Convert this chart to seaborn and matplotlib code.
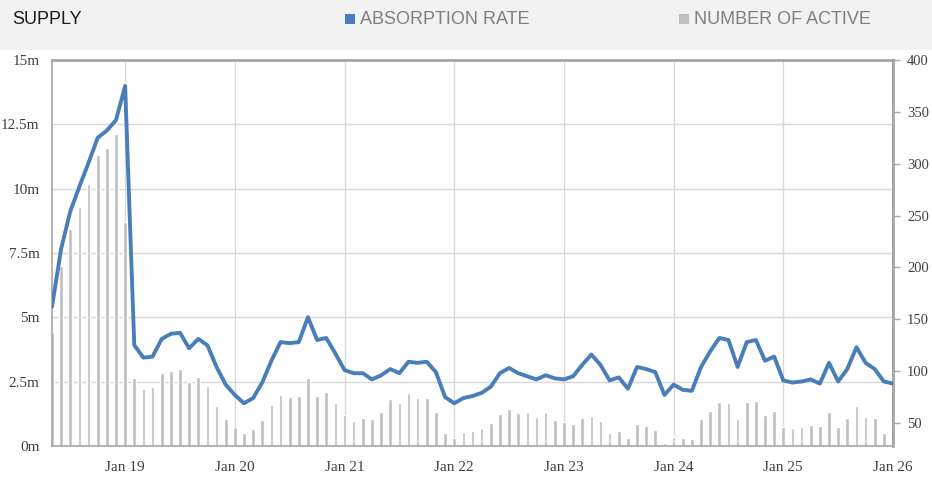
import numpy as np
import pandas as pd
import matplotlib
matplotlib.use('Agg')
import matplotlib.pyplot as plt
import seaborn as sns
from matplotlib.patches import Rectangle

# monthly series, May 2018 - Jan 2026
start_month = '2018-05-01'
active_m = [4.44, 7.0, 8.42, 9.3, 10.2, 11.3, 11.57, 12.13, 8.69, 2.63,
            2.22, 2.31, 2.83, 2.93, 2.98, 2.48, 2.67, 2.35, 1.57, 1.05,
            0.73, 0.49, 0.65, 1.02, 1.61, 1.97, 1.92, 1.94, 2.63, 1.96,
            2.11, 1.68, 1.2, 0.97, 1.1, 1.05, 1.33, 1.83, 1.66, 2.05,
            1.85, 1.85, 1.32, 0.49, 0.3, 0.53, 0.58, 0.69, 0.88, 1.24,
            1.42, 1.27, 1.31, 1.11, 1.33, 1.01, 0.92, 0.84, 1.1, 1.17,
            0.97, 0.52, 0.6, 0.3, 0.84, 0.78, 0.62, 0.1, 0.36, 0.3,
            0.26, 1.05, 1.36, 1.72, 1.68, 1.05, 1.72, 1.76, 1.2, 1.36,
            0.73, 0.69, 0.73, 0.82, 0.78, 1.32, 0.73, 1.1, 1.55, 1.14,
            1.1, 0.52, 0.47]
absorption = [162, 218, 254, 278, 301, 325, 332, 342, 375, 125,
              113, 114, 131, 136, 137, 122, 131, 125, 104, 87,
              77, 69, 74, 89, 110, 128, 127, 128, 152, 130,
              132, 117, 101, 98, 98, 92, 96, 102, 98, 109,
              108, 109, 99, 75, 69, 74, 76, 79, 85, 98,
              103, 98, 95, 92, 96, 93, 92, 95, 106, 116,
              106, 91, 94, 83, 104, 102, 99, 77, 87, 82,
              81, 104, 119, 132, 130, 104, 128, 130, 110, 114,
              91, 89, 90, 92, 88, 108, 90, 102, 123, 108,
              102, 90, 88]
left_ticks = [0, 2.5, 5, 7.5, 10, 12.5, 15]
left_labels = ['0m', '2.5m', '5m', '7.5m', '10m', '12.5m', '15m']
right_ticks = [50, 100, 150, 200, 250, 300, 350, 400]

dates = pd.date_range(start_month, periods=len(active_m), freq='MS')
df = pd.DataFrame({'idx': np.arange(len(dates)), 'active': active_m,
                   'absorption': absorption, 'date': dates})
jan = df[df['date'].dt.month == 1]

BLUE = '#4a7ebb'
GREY = '#bfbfbf'
GRID = '#d9d9d9'
SPINE = '#a6a6a6'
TXT = '#404040'

sns.set_style('white')
serif = ['Liberation Serif', 'DejaVu Serif']
head = ['Liberation Sans Narrow', 'Liberation Sans', 'DejaVu Sans']

fig = plt.figure(figsize=(9.32, 4.79), dpi=100)
fig.patches.append(Rectangle((0, 1 - 50 / 479), 1, 50 / 479, transform=fig.transFigure,
                             facecolor='#f2f2f2', edgecolor='none', zorder=0))
ax = fig.add_axes([52 / 932, 1 - 446 / 479, (893 - 52) / 932, (446 - 60) / 479])

sns.barplot(data=df, x='idx', y='active', native_scale=True, width=0.4,
            color=GREY, saturation=1, ax=ax, zorder=2)
ax.set_xlim(0, len(df) - 1)
ax.set_ylim(0, 15)
ax.set_yticks(left_ticks)
ax.set_yticklabels(left_labels)
ax.set_xticks(jan['idx'])
ax.set_xticklabels(jan['date'].dt.strftime('Jan %y'))
ax.set_xlabel('')
ax.set_ylabel('')
ax.grid(True, color=GRID, lw=1)
ax.set_axisbelow(True)
ax.tick_params(axis='both', length=0, colors=TXT, labelsize=11)
ax.tick_params(axis='y', pad=9)
ax.tick_params(axis='x', pad=11)
for lab in ax.get_xticklabels() + ax.get_yticklabels():
    lab.set_family(serif)
for s in ax.spines.values():
    s.set_color(SPINE)
    s.set_linewidth(1.2)
ax.spines['top'].set_linewidth(2)

ax2 = ax.twinx()
sns.lineplot(data=df, x='idx', y='absorption', color=BLUE, lw=2.8, ax=ax2, zorder=3)
ax2.set_ylim(27.8, 400)
ax2.set_yticks(right_ticks)
ax2.set_ylabel('')
ax2.tick_params(axis='y', length=5, width=1, color=SPINE, colors=TXT, labelsize=10.5, pad=5)
ax2.tick_params(axis='y', color=SPINE)
for lab in ax2.get_yticklabels():
    lab.set_family(serif)
for s in ax2.spines.values():
    s.set_visible(False)
ax2.spines['right'].set_visible(True)
ax2.spines['right'].set_color(SPINE)
ax2.spines['right'].set_linewidth(2)
ax2.grid(False)

# header
fig.text(12 / 932, 1 - 19 / 479, 'SUPPLY', family=head, fontsize=13, color='#1a1a1a', va='center')
fig.patches.append(Rectangle((345 / 932, 1 - 24 / 479), 10 / 932, 10 / 479,
                             transform=fig.transFigure, facecolor=BLUE, edgecolor='none'))
fig.text(360 / 932, 1 - 19 / 479, 'ABSORPTION RATE', family=head, fontsize=13, color='#7f7f7f', va='center')
fig.patches.append(Rectangle((679 / 932, 1 - 24 / 479), 10 / 932, 10 / 479,
                             transform=fig.transFigure, facecolor=GREY, edgecolor='none'))
fig.text(694 / 932, 1 - 19 / 479, 'NUMBER OF ACTIVE', family=head, fontsize=13, color='#7f7f7f', va='center')

fig.savefig('out.png', dpi=100, facecolor='white')
